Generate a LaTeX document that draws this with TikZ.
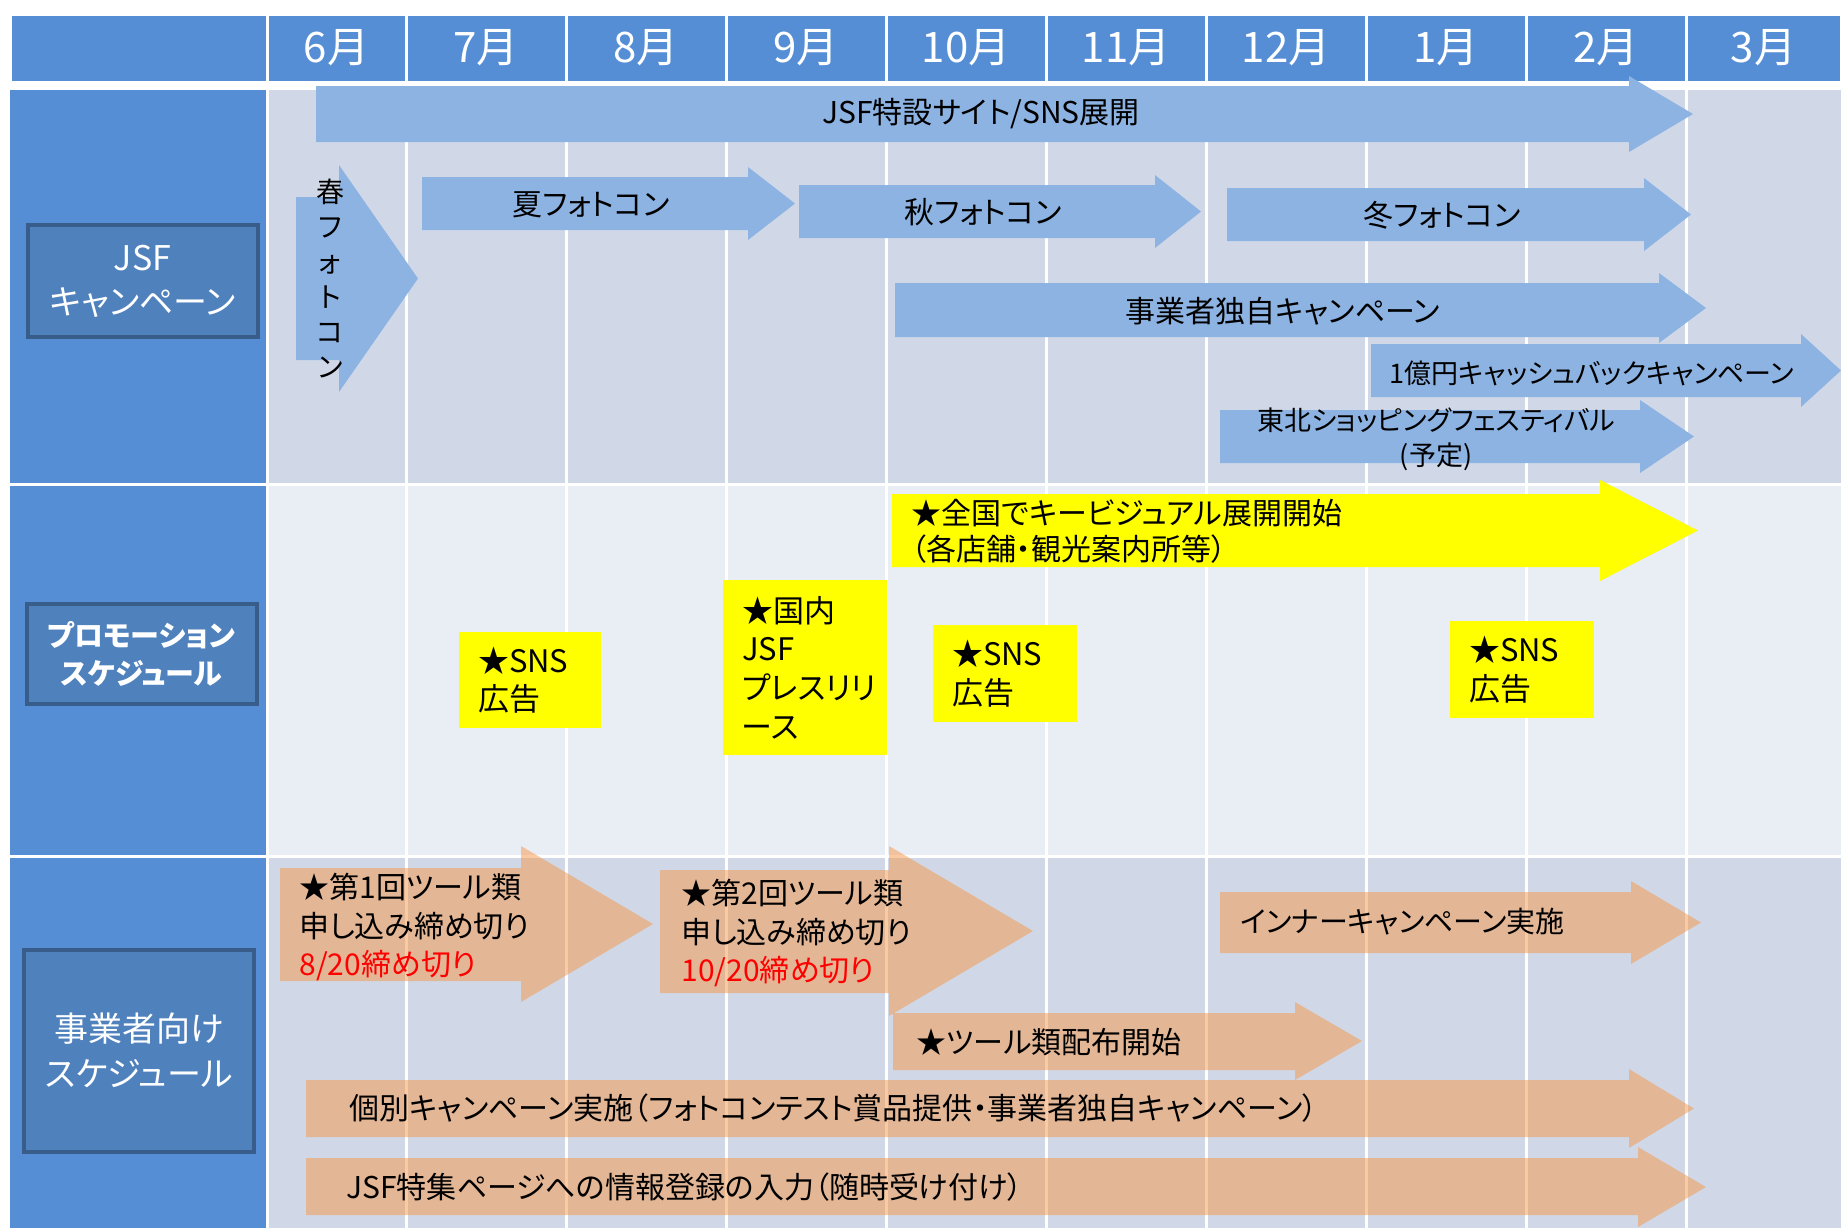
\documentclass[tikz,border=0pt]{standalone}
\usepackage{fontspec}
\setmainfont{Noto Sans CJK JP}[RawFeature=+palt]
\usetikzlibrary{positioning}
\definecolor{hdrblue}{RGB}{85,142,213}
\definecolor{lblblue}{RGB}{79,129,189}
\definecolor{lblframe}{RGB}{56,93,138}
\definecolor{bandA}{RGB}{208,216,232}
\definecolor{bandB}{RGB}{233,237,244}
\definecolor{barblue}{RGB}{141,179,226}
\definecolor{barorange}{RGB}{247,150,70}
\definecolor{hiyellow}{RGB}{255,255,0}
\newcommand{\garrow}[8]{\fill[#1] (#2,#5) -- (#3,#5) -- (#3,#7) -- (#4,{(#7+#8)/2}) -- (#3,#8) -- (#3,#6) -- (#2,#6) -- cycle;}

\begin{document}
\begin{tikzpicture}[x=0.5pt,y=-0.5pt,
  month/.style={rectangle,fill=hdrblue,draw=white,line width=1.5pt,outer sep=0pt,inner sep=0pt,
    minimum height=34pt,minimum width=80pt,text=white,font=\fontsize{21}{21}\selectfont},
  lbl/.style={rectangle,fill=lblblue,draw=lblframe,line width=2pt,text=white,align=center,inner sep=0pt},
  gridline/.style={white,line width=1.5pt},
  bluebar/.style={fill=barblue},
  yellowbar/.style={fill=hiyellow},
  orangebar/.style={fill=barorange,fill opacity=0.5},
  bartext/.style={inner sep=0pt,font=\fontsize{15}{19.3}\selectfont},
  ybox/.style={rectangle,fill=hiyellow,inner xsep=9.5pt,inner ysep=0pt,align=left,font=\fontsize{15.5}{19.3}\selectfont}]
\useasboundingbox (0,0) rectangle (1841,1228);
\fill[white] (0,0) rectangle (1841,1228);

\node[month,anchor=north west,minimum width=128.5pt] (corner) at (10,14) {};
\node[month,right=0pt of corner,minimum width=69.5pt] (m6) {6月};
\node[month,right=0pt of m6] (m7) {7月};
\node[month,right=0pt of m7] (m8) {8月};
\node[month,right=0pt of m8] (m9) {9月};
\node[month,right=0pt of m9] (m10) {10月};
\node[month,right=0pt of m10] (m11) {11月};
\node[month,right=0pt of m11] (m12) {12月};
\node[month,right=0pt of m12] (m1) {1月};
\node[month,right=0pt of m1] (m2) {2月};
\node[month,right=0pt of m2,minimum width=77.5pt] (m3) {3月};

\coordinate (top) at (0,90);
\coordinate (bot) at (0,1228);
\fill[hdrblue] (10,90) rectangle (267,1228);
\fill[bandA] (267,90) rectangle (1841,484);
\fill[bandB] (267,484) rectangle (1841,856);
\fill[bandA] (267,856) rectangle (1841,1228);
\draw[gridline] (10,484) -- (1841,484);
\draw[gridline] (10,856) -- (1841,856);
\draw[gridline] (m6.south west |- top) -- (m6.south west |- bot);
\draw[gridline] (m7.south west |- top) -- (m7.south west |- bot);
\draw[gridline] (m8.south west |- top) -- (m8.south west |- bot);
\draw[gridline] (m9.south west |- top) -- (m9.south west |- bot);
\draw[gridline] (m10.south west |- top) -- (m10.south west |- bot);
\draw[gridline] (m11.south west |- top) -- (m11.south west |- bot);
\draw[gridline] (m12.south west |- top) -- (m12.south west |- bot);
\draw[gridline] (m1.south west |- top) -- (m1.south west |- bot);
\draw[gridline] (m2.south west |- top) -- (m2.south west |- bot);
\draw[gridline] (m3.south west |- top) -- (m3.south west |- bot);

\node[lbl,minimum width=115pt,minimum height=56pt,font=\fontsize{17}{22}\selectfont] (lblcamp) at (142.5,281) {JSF\\キャンペーン};
\node[lbl,minimum width=115pt,minimum height=50pt,font=\bfseries\fontsize{14.5}{19}\selectfont] (lblpromo) at (141.5,654) {プロモーション\\スケジュール};
\node[lbl,minimum width=115pt,minimum height=101pt,font=\fontsize{17}{22.5}\selectfont] (lblbiz) at (139,1050.5) {事業者向け\\スケジュール};

\garrow{bluebar}{316}{1629}{1693}{86}{142}{76}{152}
\garrow{bluebar}{296}{339}{418}{197}{360}{165}{392}
\garrow{bluebar}{422}{748}{795}{177}{230}{167}{240}
\garrow{bluebar}{799}{1155}{1201}{185}{238}{175}{248}
\garrow{bluebar}{1227}{1644}{1691}{188}{241}{178}{251}
\garrow{bluebar}{895}{1659}{1706}{283}{337}{273}{343}
\garrow{bluebar}{1371}{1801}{1841}{344}{397}{334}{407}
\garrow{bluebar}{1220}{1640}{1694}{410}{463}{400}{473}
\garrow{yellowbar}{892}{1600}{1698}{494}{567}{480}{581}
\garrow{orangebar}{280}{521}{653}{868}{981}{846}{1002}
\garrow{orangebar}{660}{889}{1033}{870}{993}{846}{1016}
\garrow{orangebar}{893}{1295}{1362}{1013}{1070}{1002}{1080}
\garrow{orangebar}{1220}{1631}{1701}{892}{953}{881}{964}
\garrow{orangebar}{306}{1629}{1694}{1080}{1137}{1069}{1148}
\garrow{orangebar}{306}{1638}{1706}{1158}{1215}{1147}{1227}

\node[bartext] (jsfsite) at (981,114) {JSF特設サイト/SNS展開};
\node[bartext,align=center,font=\fontsize{14}{17.5}\selectfont] (haru) at (330,278) {春\\フ\\ォ\\ト\\コ\\ン};
\node[bartext] (natsu) at (591,205) {夏フォトコン};
\node[bartext] (aki) at (983,212) {秋フォトコン};
\node[bartext] (fuyu) at (1442,215) {冬フォトコン};
\node[bartext] (dokuji) at (1283,311) {事業者独自キャンペーン};
\node[bartext,font=\fontsize{13.5}{18}\selectfont] (cashback) at (1592,373) {1億円キャッシュバックキャンペーン};
\node[bartext,align=center,font=\fontsize{13.5}{17.5}\selectfont] (tohoku) at (1436,439) {東北ショッピングフェスティバル\\(予定)};
\node[bartext,anchor=west,align=left,font=\fontsize{15}{18}\selectfont] (visual) at (911,531) {★全国でキービジュアル展開開始\\（各店舗・観光案内所等）};

\node[ybox,text width=52pt,minimum height=48pt] (sns1) at (530,680) {★SNS\\広告};
\node[ybox,text width=63pt,minimum height=87.5pt] (press) at (805,667.5) {★国内\\JSF\\プレスリリ\\ース};
\node[ybox,text width=53pt,minimum height=48.5pt] (sns2) at (1005,673.5) {★SNS\\広告};
\node[ybox,text width=53pt,minimum height=48.5pt] (sns3) at (1522,669.5) {★SNS\\広告};

\node[bartext,anchor=west,align=left] (tool1) at (299,927) {★第1回ツール類\\申し込み締め切り\\\textcolor{red}{8/20締め切り}};
\node[bartext,anchor=west,align=left] (tool2) at (681,933) {★第2回ツール類\\申し込み締め切り\\\textcolor{red}{10/20締め切り}};
\node[bartext,anchor=west] (haifu) at (916,1042) {★ツール類配布開始};
\node[bartext,anchor=west,font=\fontsize{14.5}{19}\selectfont] (inner) at (1240,922) {インナーキャンペーン実施};
\node[bartext,anchor=west] (kobetsu) at (349,1108) {個別キャンペーン実施（フォトコンテスト賞品提供・事業者独自キャンペーン）};
\node[bartext,anchor=west] (tokushu) at (346,1187) {JSF特集ページへの情報登録の入力（随時受け付け）};
\end{tikzpicture}
\end{document}
